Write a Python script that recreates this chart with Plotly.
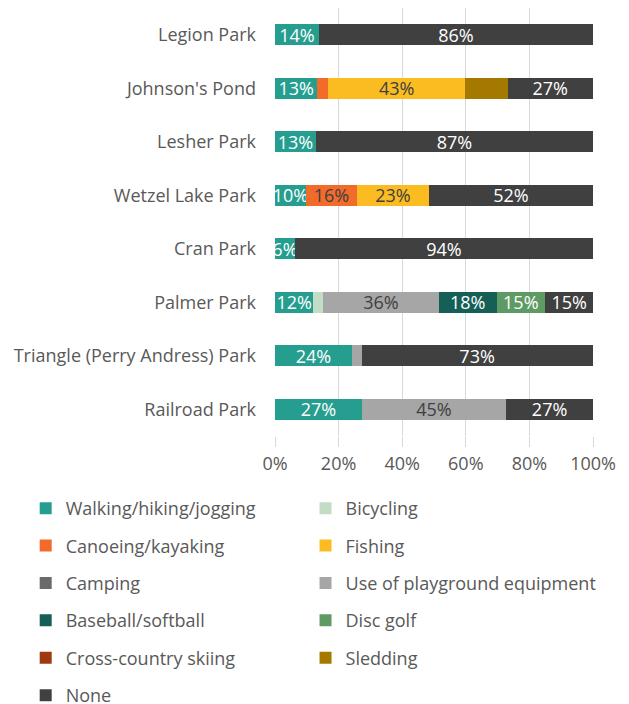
import plotly.graph_objects as go

# parks, top to bottom as shown
parks = ["Legion Park", "Johnson's Pond", "Lesher Park", "Wetzel Lake Park",
         "Cran Park", "Palmer Park", "Triangle (Perry Andress) Park", "Railroad Park"]

# share of respondents (%) per activity, one value per park
walking = [13.8, 13.3, 12.9, 9.7, 6.25, 12.1, 24.2, 27.3]
bicycling = [0, 0, 0, 0, 0, 3.0, 0, 0]
canoeing = [0, 3.3, 0, 16.1, 0, 0, 0, 0]
fishing = [0, 43.3, 0, 22.6, 0, 0, 0, 0]
camping = [0, 0, 0, 0, 0, 0, 0, 0]
playground = [0, 0, 0, 0, 0, 36.4, 3.0, 45.4]
baseball = [0, 0, 0, 0, 0, 18.2, 0, 0]
disc_golf = [0, 0, 0, 0, 0, 15.2, 0, 0]
xc_skiing = [0, 0, 0, 0, 0, 0, 0, 0]
sledding = [0, 13.3, 0, 0, 0, 0, 0, 0]
none = [86.2, 26.7, 87.1, 51.6, 93.75, 15.2, 72.7, 27.3]

x_ticks = [0, 20, 40, 60, 80, 100]
x_tick_text = ["0%", "20%", "40%", "60%", "80%", "100%"]

# name, values, colour, label colour, labelled?, legend column
series = [
    ("Walking/hiking/jogging", walking, "#269e8f", "white", True, "legend"),
    ("Bicycling", bicycling, "#c3dcc6", "#404040", True, "legend2"),
    ("Canoeing/kayaking", canoeing, "#f26b2a", "#404040", True, "legend"),
    ("Fishing", fishing, "#fbbc22", "#404040", True, "legend2"),
    ("Camping", camping, "#6b6b6b", "white", True, "legend"),
    ("Use of playground equipment", playground, "#a6a6a6", "#404040", True, "legend2"),
    ("Baseball/softball", baseball, "#155f56", "white", True, "legend"),
    ("Disc golf", disc_golf, "#5e9a63", "white", True, "legend2"),
    ("Cross-country skiing", xc_skiing, "#9e3a10", "white", True, "legend"),
    ("Sledding", sledding, "#a57800", "white", False, "legend2"),
    ("None", none, "#404040", "white", True, "legend"),
]

FONT = "Open Sans, Segoe UI, sans-serif"
GREY = "#595959"
FS = 18

fig = go.Figure()
for name, vals, col, txtcol, labelled, leg in series:
    text = [f"{v:.0f}%" if (labelled and v >= 5) else "" for v in vals]
    fig.add_trace(go.Bar(
        y=parks, x=vals, name=name, orientation="h",
        marker=dict(color=col, line=dict(width=0)),
        text=text, texttemplate="%{text}", textposition="inside",
        insidetextanchor="middle", constraintext="none", textangle=0,
        textfont=dict(color=txtcol, size=FS, family=FONT),
        legend=leg, legendgroup=name,
    ))

# page body adds an 8px offset, margins account for it
fig.update_layout(
    width=629, height=704,
    barmode="stack", bargap=0.6,
    plot_bgcolor="white", paper_bgcolor="white",
    margin=dict(l=267, r=44, t=0, b=276, autoexpand=False),
    font=dict(family=FONT, size=FS, color=GREY),
    legend=dict(x=-0.784, y=-0.126, xanchor="left", yanchor="top",
                tracegroupgap=11, font=dict(size=FS, color=GREY)),
    legend2=dict(x=0.096, y=-0.126, xanchor="left", yanchor="top",
                 tracegroupgap=11, font=dict(size=FS, color=GREY)),
)

fig.update_xaxes(
    range=[0, 100], tickmode="array", tickvals=x_ticks, ticktext=x_tick_text,
    showgrid=True, gridcolor="#d9d9d9", gridwidth=1,
    zeroline=False, showline=False,
    ticks="outside", ticklen=10, tickcolor="#d9d9d9",
    ticklabelstandoff=1, tickfont=dict(size=FS, color=GREY),
)
fig.update_yaxes(
    autorange="reversed", showgrid=False, zeroline=False,
    ticks="", ticklabelstandoff=18, tickfont=dict(size=FS, color=GREY),
)

fig.write_html("out.html")
